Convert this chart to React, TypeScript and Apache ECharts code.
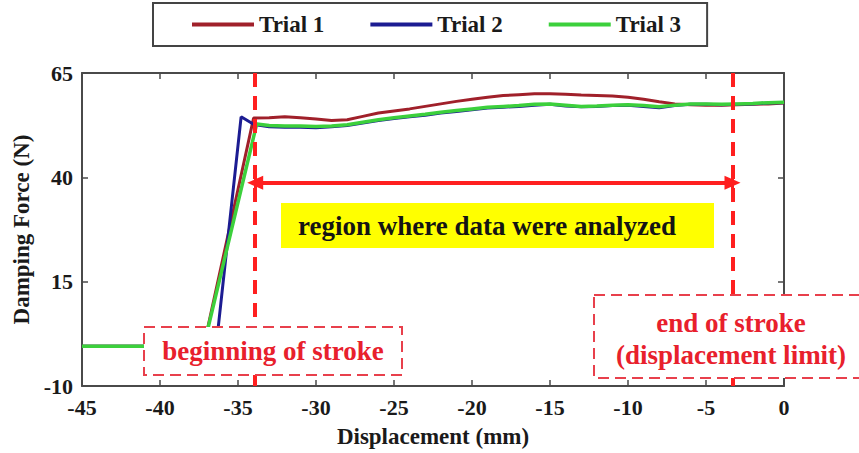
import React, { useEffect, useRef } from "react";
import * as echarts from "echarts";

// ---- data ----
const trial1X = [-45, -37.2, -34, -33, -32, -31, -30, -29, -28, -27, -26, -25, -24, -23, -22, -21, -20, -19, -18, -17, -16, -15, -14, -13, -12, -11, -10, -9, -8, -7, -6, -5, -4, -3, -2, -1, 0];
const trial1Y = [-0.5, -0.5, 54.2, 54.3, 54.5, 54.3, 54.0, 53.6, 53.8, 54.6, 55.4, 55.9, 56.4, 57.0, 57.6, 58.2, 58.7, 59.2, 59.6, 59.8, 60.0, 60.0, 59.9, 59.7, 59.6, 59.5, 59.2, 58.7, 58.1, 57.6, 57.4, 57.3, 57.3, 57.4, 57.5, 57.6, 57.8];

const trial2X = [-45, -36.4, -34.8, -34, -33, -32, -31, -30, -29, -28, -27, -26, -25, -24, -23, -22, -21, -20, -19, -18, -17, -16, -15, -14, -13, -12, -11, -10, -9, -8, -7, -6, -5, -4, -3, -2, -1, 0];
const trial2Y = [-0.5, -0.5, 54.5, 52.7, 52.1, 52.0, 52.0, 51.9, 52.1, 52.4, 53.0, 53.6, 54.1, 54.5, 54.9, 55.4, 55.8, 56.2, 56.6, 56.8, 57.0, 57.3, 57.5, 57.1, 56.9, 57.0, 57.2, 57.3, 57.0, 56.7, 57.2, 57.5, 57.5, 57.4, 57.5, 57.6, 57.8, 57.9];

const trial3X = [-45, -37.2, -33.8, -33, -32, -31, -30, -29, -28, -27, -26, -25, -24, -23, -22, -21, -20, -19, -18, -17, -16, -15, -14, -13, -12, -11, -10, -9, -8, -7, -6, -5, -4, -3, -2, -1, 0];
const trial3Y = [-0.5, -0.5, 52.8, 52.4, 52.3, 52.3, 52.2, 52.3, 52.6, 53.2, 53.8, 54.3, 54.7, 55.1, 55.6, 56.0, 56.4, 56.8, 57.0, 57.2, 57.5, 57.6, 57.3, 57.0, 57.1, 57.3, 57.4, 57.2, 56.9, 57.3, 57.6, 57.6, 57.5, 57.6, 57.7, 57.9, 58.0];

const seriesNames = ["Trial 1", "Trial 2", "Trial 3"];
const strokeStart = -33.9;
const strokeEnd = -3.3;
const arrowLevel = 38.7;

const xMin = -45, xMax = 0, xStep = 5;
const yMin = -10, yMax = 65, yStep = 25;

const zip = (xs: number[], ys: number[]) => xs.map((x, i) => [x, ys[i]]);

const FONT = "Liberation Serif";
const RED = "#ff1f1f";
const BOXRED = "#e8404c";

export default function App() {
  const ref = useRef<HTMLDivElement>(null);
  useEffect(() => {
    if (!ref.current) return;
    const chart = echarts.init(ref.current, null, { renderer: "svg" });
    const axisLine = { show: true, onZero: false, lineStyle: { color: "#4a4a4a", width: 2 } };
    const tick = { show: true, inside: true, length: 6, lineStyle: { color: "#4a4a4a", width: 1.5 } };
    const label = { fontFamily: FONT, fontSize: 22, fontWeight: "bold" as const, color: "#1a1a1a" };
    const colors = ["#a0202a", "#1c1c92", "#3cd03c"];
    const datasets = [zip(trial1X, trial1Y), zip(trial2X, trial2Y), zip(trial3X, trial3Y)];
    const solidRed = { type: "solid", width: 4, color: RED };
    const barRed = { type: "solid", width: 3, color: RED };
    const txt = (text: string, x: number, y: number, fill: string) => ({
      type: "text", z: 101, x, y,
      style: {
        text, fill, fontFamily: FONT, fontSize: 27, fontWeight: "bold",
        textAlign: "center", textVerticalAlign: "middle",
      },
    });

    chart.setOption({
      animation: false,
      grid: { left: 82, right: 75, top: 73, bottom: 67 },
      legend: {
        data: seriesNames,
        left: 153,
        top: 3,
        padding: [10, 26, 10, 39],
        itemGap: 46,
        itemWidth: 62,
        itemHeight: 4,
        icon: "rect",
        borderColor: "#444",
        borderWidth: 2,
        textStyle: { fontFamily: FONT, fontSize: 23, fontWeight: "bold", color: "#1a1a1a" },
      },
      xAxis: [
        {
          type: "value", min: xMin, max: xMax, interval: xStep, position: "bottom",
          axisLine, axisTick: tick, splitLine: { show: false },
          axisLabel: { ...label, margin: 10 },
          name: "Displacement (mm)", nameLocation: "middle", nameGap: 39,
          nameTextStyle: { fontFamily: FONT, fontSize: 23, fontWeight: "bold", color: "#1a1a1a" },
        },
        {
          type: "value", min: xMin, max: xMax, interval: xStep, position: "top",
          axisLine, axisTick: tick, splitLine: { show: false }, axisLabel: { show: false },
        },
      ],
      yAxis: [
        {
          type: "value", min: yMin, max: yMax, interval: yStep, position: "left",
          axisLine, axisTick: tick, splitLine: { show: false },
          axisLabel: { ...label, margin: 9 },
          name: "Damping Force (N)", nameLocation: "middle", nameGap: 48,
          nameTextStyle: { fontFamily: FONT, fontSize: 23, fontWeight: "bold", color: "#1a1a1a" },
        },
        {
          type: "value", min: yMin, max: yMax, interval: yStep, position: "right",
          axisLine, axisTick: tick, splitLine: { show: false }, axisLabel: { show: false },
        },
      ],
      series: [
        ...seriesNames.map((name, i) => ({
          name,
          type: "line",
          data: datasets[i],
          color: colors[i],
          showSymbol: false,
          symbol: "none",
          lineStyle: { width: i === 2 ? 3.5 : 3, color: colors[i] },
          z: 2 + i,
        })),
        {
          name: "annotations",
          type: "line",
          data: [],
          z: 10,
          markLine: {
            silent: true,
            symbol: "none",
            label: { show: false },
            lineStyle: { color: RED, width: 4, type: [14, 9] },
            data: [
              { xAxis: strokeStart },
              { xAxis: strokeEnd },
              [
                { coord: [strokeStart, arrowLevel], symbol: "triangle", symbolSize: [14, 16], lineStyle: solidRed },
                { coord: [strokeEnd, arrowLevel], symbol: "triangle", symbolSize: [14, 16] },
              ],
              [
                { coord: [strokeStart, arrowLevel - 1.6], lineStyle: barRed },
                { coord: [strokeStart, arrowLevel + 1.6] },
              ],
              [
                { coord: [strokeEnd, arrowLevel - 1.6], lineStyle: barRed },
                { coord: [strokeEnd, arrowLevel + 1.6] },
              ],
            ],
          },
        },
      ],
      graphic: [
        {
          type: "rect", z: 100,
          shape: { x: 281, y: 203, width: 433, height: 45 },
          style: { fill: "#ffff00", stroke: "none" },
        },
        txt("region where data were analyzed", 487, 226, "#141414"),
        {
          type: "rect", z: 100,
          shape: { x: 144, y: 327, width: 258, height: 48 },
          style: { fill: "#ffffff", stroke: BOXRED, lineWidth: 2, lineDash: [11, 6] },
        },
        txt("beginning of stroke", 273, 351, "#e8202c"),
        {
          type: "rect", z: 100,
          shape: { x: 594, y: 295, width: 272, height: 83 },
          style: { fill: "#ffffff", stroke: BOXRED, lineWidth: 2, lineDash: [11, 6] },
        },
        txt("end of stroke", 731, 323, "#e8202c"),
        txt("(displacement limit)", 731, 355, "#e8202c"),
      ],
    });
    return () => chart.dispose();
  }, []);

  return (
    <div
      ref={ref}
      style={{ position: "fixed", left: 0, top: 0, width: 859, height: 453, background: "#ffffff" }}
    />
  );
}
